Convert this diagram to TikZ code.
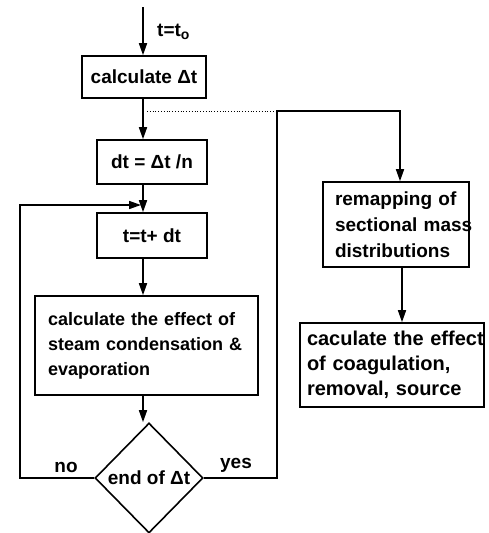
\documentclass[tikz,border=0pt]{standalone}
\usepackage{fontspec}
\setmainfont{Liberation Sans}
\usetikzlibrary{shapes.geometric,arrows.meta}
\begin{document}
\begin{tikzpicture}[x=1pt,y=-1pt,
  every node/.style={font=\fontsize{19}{25}\selectfont\bfseries},
  box/.style={draw,line width=1.6pt,rectangle,inner sep=0pt,align=left},
  dia/.style={draw,line width=1.6pt,diamond,inner sep=0pt,aspect=1},
  arr/.style={line width=1.6pt,-{Triangle[length=12pt,width=8pt]}},
  lbl/.style={inner sep=0pt}]
\useasboundingbox (0,0) rectangle (488,533);
\coordinate (c) at (143,0);
\coordinate (top) at (143,7);
\node[box,minimum width=124pt,minimum height=42pt] (b1) at (144,77) {calculate Δt};
\node[box,minimum width=110pt,minimum height=44pt] (b2) at (152,162) {dt = Δt /n};
\node[box,minimum width=110pt,minimum height=45pt] (b5) at (152,235.5) {t=t+ dt};
\node[box,text width=197pt,inner xsep=13pt,minimum height=99pt,font=\fontsize{18}{25}\selectfont\bfseries] (b6) at (146.5,345.5) {\mbox{calculate the effect of}\\\mbox{steam condensation \&}\\\mbox{evaporation}};
\node[dia,minimum width=108pt,minimum height=110pt] (d) at (149,478) {};
\node[lbl] (dt) at (149,478) {end of Δt};
\node[box,text width=122pt,inner xsep=12pt,minimum height=85pt,font=\fontsize{19}{26}\selectfont\bfseries] (b3) at (396,224.5) {\mbox{remapping of}\\\mbox{sectional mass}\\\mbox{distributions}};
\node[box,text width=170pt,inner xsep=7pt,minimum height=84pt,font=\fontsize{20}{25}\selectfont\bfseries] (b4) at (392,365) {\mbox{caculate the effect}\\\mbox{of coagulation,}\\\mbox{removal, source}};
\node[lbl,anchor=west] (t0) at (157,32) {t=t\raisebox{-0.35ex}{\fontsize{14}{14}\selectfont o}};
\node[lbl] (no) at (66,467) {no};
\node[lbl] (yes) at (236,465) {yes};
% connectors
\draw[arr] (top) -- (b1.north -| c);
\draw[arr] (b1.south -| c) -- (b2.north -| c);
\draw[arr] (b2.south -| c) -- (b5.north -| c);
\draw[arr] (b5.south -| c) -- (b6.north -| c);
\draw[arr] (b6.south -| c) -- (d.north -| c);
\coordinate (br) at (147,111);
\coordinate (yc) at (277,111);
\coordinate (r3) at (400,111);
\draw[dotted,line width=0.8pt] (br) -- (yc);
\draw[arr] (d.east) -- (d.east -| yc) -- (yc) -- (r3) -- (b3.north -| r3);
\coordinate (r4) at (402,0);
\draw[arr] (b3.south -| r4) -- (b4.north -| r4);
\coordinate (nl) at (20,205);
\draw[arr] (d.west) -- (d.west -| nl) -- (nl) -- (141,205);
\end{tikzpicture}
\end{document}
